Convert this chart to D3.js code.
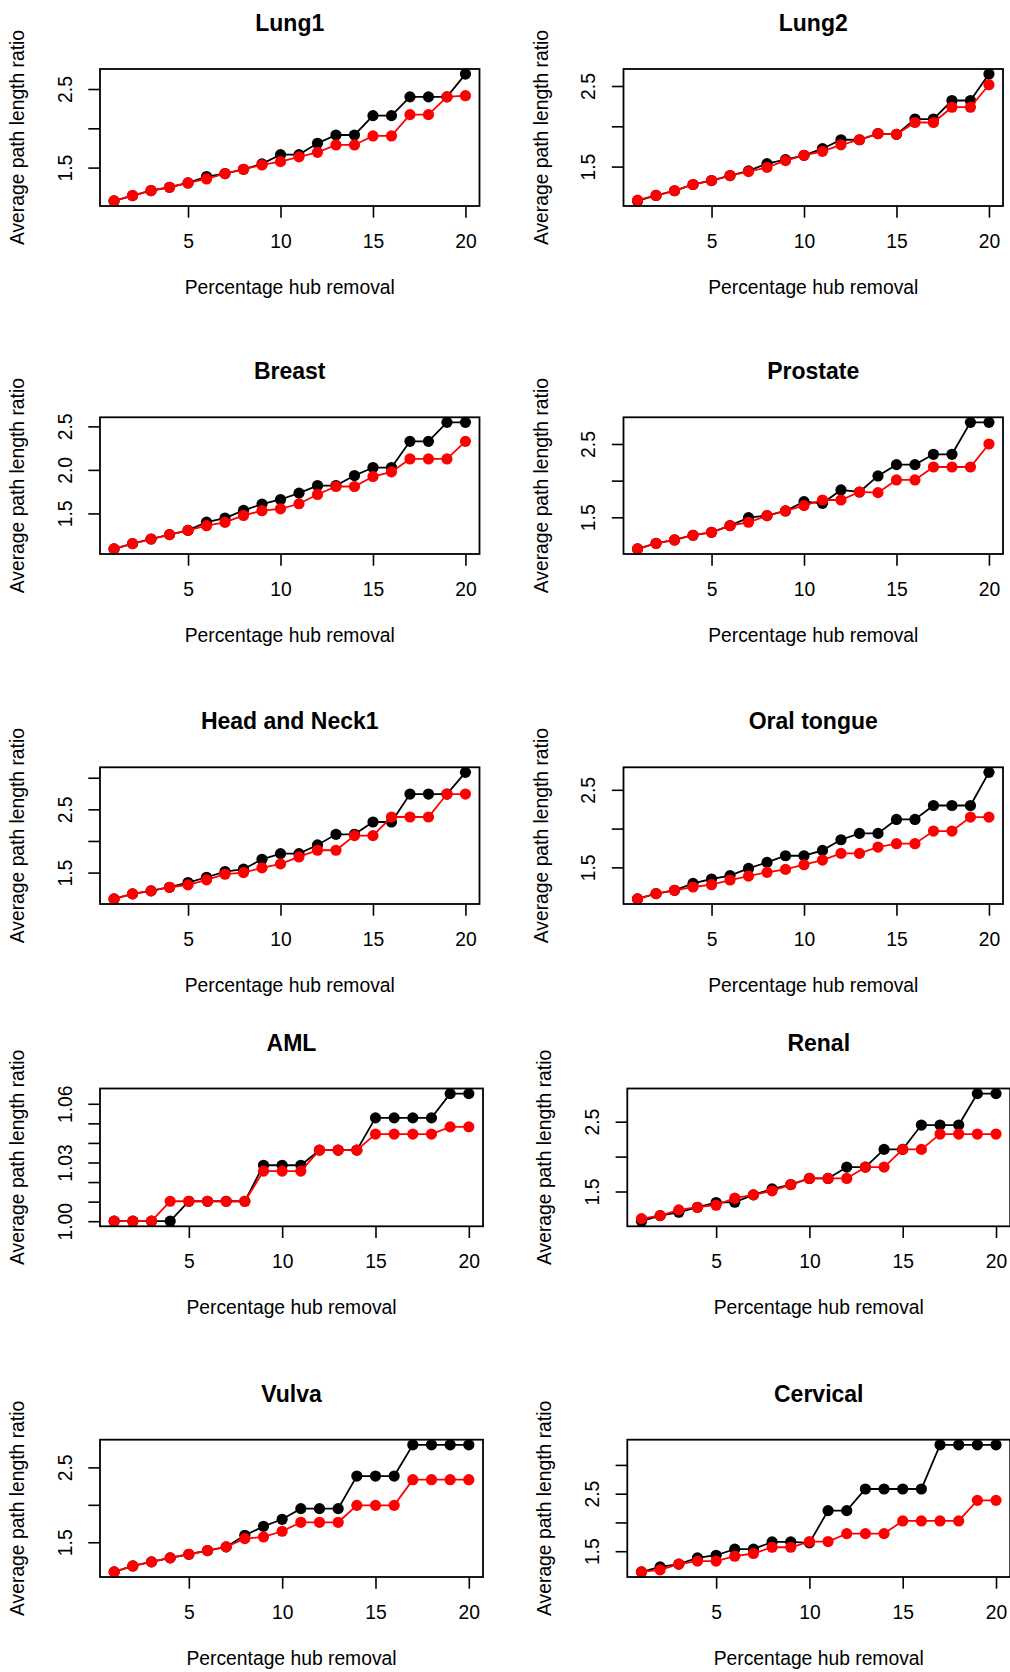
<!DOCTYPE html>
<html lang="en">
<head>
    <meta charset="UTF-8">
    <title>Average path length ratio vs hub removal</title>
    <script src="https://d3js.org/d3.v7.min.js"></script>
    <style>
        body { margin: 0; background: #fff; }
        svg { display: block; font-family: "Liberation Sans", Arial, sans-serif; }
        .title { font-size: 23px; font-weight: bold; text-anchor: middle; }
        .lab { font-size: 19.3px; text-anchor: middle; }
        .tick text { font-size: 19.3px; fill: #000; }
        .tick line { stroke: #000; stroke-width: 1.6px; }
        .box { fill: none; stroke: #000; stroke-width: 1.8px; }
    </style>
</head>
<body>
<svg width="1010" height="1672"></svg>
<script>
    // x values: percentage of hubs removed
    const pct = [1, 2, 3, 4, 5, 6, 7, 8, 9, 10, 11, 12, 13, 14, 15, 16, 17, 18, 19, 20];
    const xTicks = [5, 10, 15, 20];

    const titles = ["Lung1", "Lung2", "Breast", "Prostate", "Head and Neck1",
                    "Oral tongue", "AML", "Renal", "Vulva", "Cervical"];

    // black series / red series
    const lung1Black = [1.076, 1.144, 1.208, 1.25, 1.305, 1.386, 1.424, 1.479, 1.547, 1.665, 1.665, 1.809, 1.915, 1.915, 2.161, 2.161, 2.40, 2.40, 2.40, 2.69];
    const lung1Red   = [1.076, 1.144, 1.208, 1.25, 1.305, 1.356, 1.424, 1.479, 1.534, 1.576, 1.636, 1.695, 1.788, 1.788, 1.903, 1.903, 2.174, 2.174, 2.40, 2.415];
    const lung2Black = [1.074, 1.142, 1.2, 1.278, 1.327, 1.389, 1.447, 1.537, 1.586, 1.64, 1.722, 1.833, 1.833, 1.91, 1.90, 2.09, 2.09, 2.32, 2.32, 2.648];
    const lung2Red   = [1.084, 1.142, 1.2, 1.278, 1.327, 1.389, 1.438, 1.49, 1.574, 1.64, 1.689, 1.77, 1.833, 1.91, 1.90, 2.047, 2.047, 2.237, 2.237, 2.516];
    const breastBlack = [1.092, 1.153, 1.206, 1.256, 1.305, 1.40, 1.447, 1.534, 1.607, 1.66, 1.733, 1.82, 1.82, 1.935, 2.027, 2.027, 2.328, 2.328, 2.546, 2.546];
    const breastRed   = [1.092, 1.153, 1.206, 1.256, 1.305, 1.359, 1.397, 1.477, 1.531, 1.553, 1.611, 1.718, 1.809, 1.809, 1.924, 1.977, 2.126, 2.126, 2.126, 2.328];
    const prostateBlack = [1.068, 1.145, 1.191, 1.255, 1.295, 1.386, 1.495, 1.523, 1.586, 1.714, 1.691, 1.873, 1.845, 2.064, 2.218, 2.218, 2.359, 2.359, 2.795, 2.795];
    const prostateRed   = [1.068, 1.145, 1.191, 1.255, 1.295, 1.386, 1.432, 1.523, 1.586, 1.659, 1.736, 1.736, 1.845, 1.836, 2.009, 2.009, 2.186, 2.186, 2.186, 2.5];
    const headNeckBlack = [1.083, 1.163, 1.21, 1.268, 1.342, 1.426, 1.516, 1.553, 1.71, 1.80, 1.80, 1.937, 2.105, 2.105, 2.30, 2.30, 2.742, 2.742, 2.742, 3.085];
    const headNeckRed   = [1.083, 1.163, 1.21, 1.268, 1.305, 1.384, 1.474, 1.5, 1.574, 1.637, 1.747, 1.853, 1.853, 2.084, 2.084, 2.379, 2.379, 2.379, 2.742, 2.742];
    const oralBlack = [1.093, 1.161, 1.204, 1.294, 1.35, 1.393, 1.487, 1.564, 1.65, 1.65, 1.719, 1.856, 1.938, 1.938, 2.118, 2.118, 2.298, 2.298, 2.298, 2.725];
    const oralRed   = [1.093, 1.161, 1.204, 1.247, 1.277, 1.337, 1.388, 1.436, 1.474, 1.534, 1.594, 1.68, 1.68, 1.762, 1.805, 1.805, 1.968, 1.968, 2.148, 2.148];
    const amlBlack = [1.000, 1.000, 1.000, 1.000, 1.0102, 1.0102, 1.0102, 1.0102, 1.0286, 1.0286, 1.0286, 1.0363, 1.0363, 1.0363, 1.0528, 1.0528, 1.0528, 1.0528, 1.0652, 1.0652];
    const amlRed   = [1.000, 1.000, 1.000, 1.0102, 1.0102, 1.0102, 1.0102, 1.0102, 1.0256, 1.0256, 1.0256, 1.0363, 1.0363, 1.0363, 1.0445, 1.0445, 1.0445, 1.0445, 1.0482, 1.0482];
    const renalBlack = [1.075, 1.155, 1.203, 1.275, 1.342, 1.347, 1.452, 1.538, 1.60, 1.687, 1.687, 1.849, 1.849, 2.103, 2.103, 2.452, 2.452, 2.452, 2.902, 2.902];
    const renalRed   = [1.112, 1.155, 1.237, 1.275, 1.304, 1.404, 1.452, 1.51, 1.60, 1.687, 1.687, 1.687, 1.849, 1.849, 2.103, 2.103, 2.323, 2.323, 2.323, 2.323];
    const vulvaBlack = [1.104, 1.184, 1.238, 1.291, 1.34, 1.389, 1.438, 1.593, 1.713, 1.807, 1.949, 1.949, 1.949, 2.384, 2.384, 2.384, 2.802, 2.802, 2.802, 2.802];
    const vulvaRed   = [1.104, 1.184, 1.238, 1.291, 1.34, 1.389, 1.438, 1.549, 1.571, 1.647, 1.767, 1.767, 1.767, 1.993, 1.993, 1.993, 2.336, 2.336, 2.336, 2.336];
    const cervicalBlack = [1.14, 1.228, 1.275, 1.384, 1.43, 1.535, 1.535, 1.662, 1.662, 1.645, 2.205, 2.205, 2.581, 2.581, 2.581, 2.581, 3.35, 3.35, 3.35, 3.35];
    const cervicalRed   = [1.14, 1.176, 1.275, 1.327, 1.327, 1.413, 1.46, 1.569, 1.569, 1.668, 1.668, 1.806, 1.806, 1.806, 2.026, 2.026, 2.026, 2.026, 2.384, 2.384];

    const blackSeries = [lung1Black, lung2Black, breastBlack, prostateBlack, headNeckBlack,
                         oralBlack, amlBlack, renalBlack, vulvaBlack, cervicalBlack];
    const redSeries = [lung1Red, lung2Red, breastRed, prostateRed, headNeckRed,
                       oralRed, amlRed, renalRed, vulvaRed, cervicalRed];

    // y ticks, and which of them R printed a label for
    const yTicks = [
        [1.5, 2, 2.5], [1.5, 2, 2.5], [1.5, 2, 2.5], [1.5, 2, 2.5], [1.5, 2, 2.5, 3],
        [1.5, 2, 2.5], [1.00, 1.01, 1.02, 1.03, 1.04, 1.05, 1.06], [1.5, 2, 2.5], [1.5, 2, 2.5], [1.5, 2, 2.5, 3]
    ];
    const yLabels = [
        ["1.5", "", "2.5"], ["1.5", "", "2.5"], ["1.5", "2.0", "2.5"], ["1.5", "", "2.5"], ["1.5", "", "2.5", ""],
        ["1.5", "", "2.5"], ["1.00", "", "", "1.03", "", "", "1.06"], ["1.5", "", "2.5"], ["1.5", "", "2.5"], ["1.5", "", "2.5", ""]
    ];

    // plot boxes (pixels) for each panel
    const rowY = [[69, 206], [417.3, 554], [767.3, 904], [1088.5, 1226.3], [1439.7, 1577]];
    const colX = [
        [[100, 479.5], [623.5, 1003]],
        [[100, 479.5], [623.5, 1003]],
        [[100, 479.5], [623.5, 1003]],
        [[100, 483], [627.3, 1010.2]],
        [[100, 483], [627.3, 1010.2]]
    ];

    const svg = d3.select("svg");
    svg.append("rect").attr("width", 1010).attr("height", 1672).attr("fill", "#fff");

    // R style: pad the data range by 4% on each side
    function rRange(lo, hi) {
        const d = (hi - lo) * 0.04;
        return [lo - d, hi + d];
    }

    titles.forEach((title, i) => {
        const row = Math.floor(i / 2), col = i % 2;
        const [x0, x1] = colX[row][col];
        const [y0, y1] = rowY[row];
        const all = blackSeries[i].concat(redSeries[i]);

        const x = d3.scaleLinear().domain(rRange(1, 20)).range([x0, x1]);
        const y = d3.scaleLinear().domain(rRange(d3.min(all), d3.max(all))).range([y1, y0]);

        const g = svg.append("g");

        g.append("text").attr("class", "title")
            .attr("x", (x0 + x1) / 2).attr("y", y0 - 38).text(title);

        // x axis
        const xa = g.append("g").attr("transform", `translate(0,${y1})`)
            .call(d3.axisBottom(x).tickValues(xTicks).tickSize(11.7).tickSizeOuter(0));
        xa.select(".domain").remove();
        xa.selectAll(".tick text").attr("y", 41.5).attr("dy", 0);

        // y axis, labels parallel to the axis
        const labs = yLabels[i];
        const ya = g.append("g").attr("transform", `translate(${x0},0)`)
            .call(d3.axisLeft(y).tickValues(yTicks[i]).tickSize(11.7).tickSizeOuter(0)
                .tickFormat((d, k) => labs[k]));
        ya.select(".domain").remove();
        ya.selectAll(".tick text")
            .attr("x", 0).attr("dy", 0)
            .attr("text-anchor", "middle")
            .attr("transform", "translate(-28.3,0) rotate(-90)");

        g.append("text").attr("class", "lab")
            .attr("x", (x0 + x1) / 2).attr("y", y1 + 88).text("Percentage hub removal");
        g.append("text").attr("class", "lab")
            .attr("transform", `translate(${x0 - 76},${(y0 + y1) / 2}) rotate(-90)`)
            .text("Average path length ratio");

        const line = d3.line().x((d, k) => x(pct[k])).y(d => y(d));

        [[blackSeries[i], "#000000"], [redSeries[i], "#ff0000"]].forEach(([vals, color]) => {
            g.append("path").datum(vals)
                .attr("d", line)
                .attr("fill", "none")
                .attr("stroke", color)
                .attr("stroke-width", 1.8);
            g.selectAll(null).data(vals).enter().append("circle")
                .attr("cx", (d, k) => x(pct[k]))
                .attr("cy", d => y(d))
                .attr("r", 5.6)
                .attr("fill", color);
        });

        g.append("rect").attr("class", "box")
            .attr("x", x0).attr("y", y0)
            .attr("width", x1 - x0).attr("height", y1 - y0);
    });
</script>
</body>
</html>
